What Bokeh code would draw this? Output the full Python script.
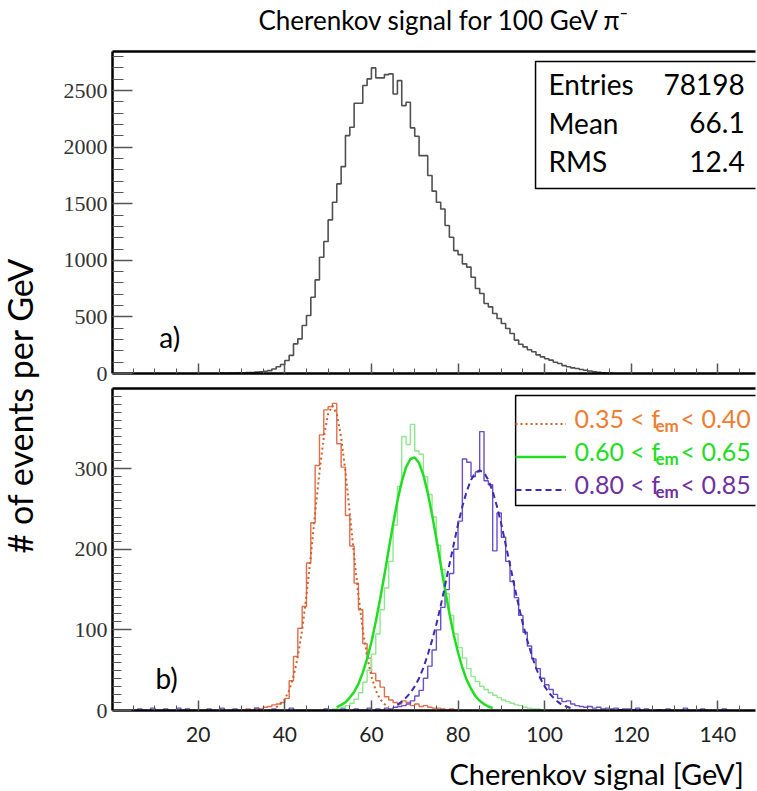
import numpy as np
from math import pi
from bokeh.plotting import figure
from bokeh.layouts import row, column
from bokeh.models import (Range1d, SingleIntervalTicker, FixedTicker, LinearAxis, Label,
                          BoxAnnotation, Legend, LegendItem)
from bokeh.embed import file_html
from bokeh.resources import INLINE

# ---------------- data ----------------
TITLE = "Cherenkov signal for 100 GeV \u03c0\u207b"
X_LABEL = "Cherenkov signal [GeV]"
Y_LABEL = "# of events per GeV"
BIN_WIDTH = 1.0

# panel a) : all events, 1 GeV bins, first bin edge 25 GeV
top_first_bin = 25
top_counts = [3, 2, 4, 3, 6, 5, 9, 8, 12, 16, 20, 25, 40, 60, 80,
              115, 160, 262, 306, 424, 512, 674, 827, 1027, 1166,
              1357, 1513, 1675, 1828, 2102, 2176, 2388, 2388, 2544, 2603,
              2700, 2612, 2612, 2641, 2647, 2470, 2588, 2367, 2397, 2170,
              2096, 1925, 1925, 1750, 1611, 1513, 1454, 1307, 1204, 1086,
              1050, 969, 940, 850, 751, 707, 618, 589, 530, 486,
              442, 398, 353, 295, 259, 235, 210, 192, 165, 147,
              130, 118, 100, 88, 70, 59, 50, 44, 35, 29,
              22, 15, 10, 6, 3, 2, 0]
stats_names = ["Entries", "Mean", "RMS"]
stats_values = ["78198", "66.1", "12.4"]

# panel b) : three f_em slices
orange_first_bin = 30
orange_counts = [0, 2, 0, 3, 2, 4, 5, 7, 8, 10,
                 15, 37, 67, 102, 129, 183, 233, 304, 342, 373,
                 377, 381, 331, 302, 242, 204, 158, 125, 83, 65,
                 46, 37, 29, 17, 13, 10, 8, 12, 10, 6,
                 8, 5, 6, 4, 3, 3, 2, 0, 2, 0, 0]
green_first_bin = 50
green_counts = [0, 2, 3, 4, 6, 9, 14, 22, 35, 50,
                70, 95, 125, 152, 185, 230, 278, 340, 330, 355,
                322, 318, 290, 268, 240, 205, 175, 145, 118, 95,
                78, 65, 52, 42, 36, 30, 26, 22, 19, 16,
                13, 11, 9, 7, 6, 4, 3, 2, 2, 0, 0]
purple_first_bin = 5
purple_counts = [0, 2, 0, 0, 3, 0, 0, 2, 0, 0,            # 5-14
                 3, 0, 2, 0, 0, 0, 0, 2, 0, 0,            # 15-24
                 3, 0, 0, 2, 0, 0, 0, 0, 3, 0,            # 25-34
                 0, 0, 2, 0, 0, 0, 3, 0, 0, 0,            # 35-44
                 0, 0, 0, 0, 2, 0, 0, 0, 2, 0,            # 45-54
                 0, 2, 0, 0, 3,                           # 55-59
                 0, 2, 0, 3, 2, 4, 5, 6, 8, 12,           # 60-69
                 18, 25, 40, 55, 75, 100, 128, 150, 170, 200,
                 235, 312, 308, 290, 296, 346, 285, 280, 198, 245,
                 215, 185, 160, 140, 118, 97, 80, 64, 52, 40,
                 32, 26, 20, 15, 11, 12, 8, 6, 5, 4,
                 5, 3, 4, 2, 3, 2, 3, 1, 2, 2,
                 1, 3, 0, 2, 0, 0, 1, 0, 2, 0,
                 0, 0, 3, 0, 0, 0, 2, 0, 0, 0, 0, 2, 0, 0]

# gaussian fit curves (GeV, events)
orange_fit_x = list(range(38, 65))
orange_fit_y = [4, 8, 14, 25, 42, 67, 100, 143, 192, 245, 296, 339, 368, 378,
                368, 339, 296, 245, 192, 143, 100, 67, 42, 25, 14, 8, 4]
green_fit_x = list(range(52, 89))
green_fit_y = [4, 7, 10, 16, 23, 33, 47, 64, 85, 110, 138, 168, 200, 231, 260,
               284, 302, 312, 314, 307, 292, 270, 243, 213, 181, 150, 121, 94,
               72, 53, 38, 27, 18, 12, 8, 5, 3]
purple_fit_x = list(range(66, 107))
purple_fit_y = [7, 11, 16, 22, 30, 40, 53, 69, 87, 107, 130, 155, 181, 206, 231,
                253, 272, 286, 295, 298, 295, 286, 272, 253, 231, 206, 181, 155,
                130, 107, 87, 69, 53, 40, 30, 22, 16, 11, 7, 5, 3]

legend_parts = [("0.35 < f", "em", "< 0.40"),
                ("0.60 < f", "em", "< 0.65"),
                ("0.80 < f", "em", "< 0.85")]

# ---------------- style ----------------
SANS = "Lato"
SERIF = "Liberation Serif"
C_TOP = "#505050"
C_OR_H, C_OR_F, C_OR_T = "#DE6E4C", "#D0602A", "#ED7D31"
C_GR_H, C_GR_F, C_GR_T = "#8FE88F", "#22DD22", "#22DD22"
C_PU_H, C_PU_F, C_PU_T = "#6A50C8", "#3A2DB0", "#7030A0"


def edges(first, counts):
    return [first + i * BIN_WIDTH for i in range(len(counts))]


def style(p, y_int, y_minor, y_maj, y_min, show_x_labels):
    p.xgrid.visible = False
    p.ygrid.visible = False
    xa = p.below[0]
    ya = p.left[0]
    xa.ticker = SingleIntervalTicker(interval=20, num_minor_ticks=4)
    xa.major_tick_in, xa.major_tick_out = 10, 0
    xa.minor_tick_in, xa.minor_tick_out = 5, 0
    xa.axis_line_width = 2.5
    xa.major_tick_line_width = 1.5
    xa.major_tick_line_color = "#555555"
    xa.minor_tick_line_color = "#555555"
    if show_x_labels:
        xa.major_label_text_font = SANS
        xa.major_label_text_font_size = "21px"
        xa.major_label_text_color = "#222222"
        xa.major_label_standoff = 16
    else:
        xa.major_label_text_color = None
        xa.major_label_text_font_size = "1px"
        xa.major_label_standoff = 0
    ya.ticker = SingleIntervalTicker(interval=y_int, num_minor_ticks=y_minor)
    ya.major_tick_in, ya.major_tick_out = y_maj, 0
    ya.minor_tick_in, ya.minor_tick_out = y_min, 0
    ya.axis_line_width = 2.5
    ya.major_tick_line_width = 1.5
    ya.major_tick_line_color = "#555555"
    ya.minor_tick_line_color = "#555555"
    ya.minor_tick_line_width = 1.2
    ya.major_label_text_font = SERIF
    ya.major_label_text_font_size = "22px"
    ya.major_label_text_color = "#333333"
    ya.major_label_standoff = 5
    top = LinearAxis(ticker=FixedTicker(ticks=[]),
                     major_tick_in=0, major_tick_out=0, minor_tick_in=0, minor_tick_out=0,
                     major_label_text_color=None, major_label_text_font_size="1px",
                     major_label_standoff=0,
                     axis_line_width=2.5, axis_line_color="black")
    p.add_layout(top, "above")


def strip(width, height):
    s = figure(width=width, height=height, x_range=Range1d(0, 1), y_range=Range1d(0, 1),
               x_axis_type=None, y_axis_type=None, min_border=0,
               outline_line_color=None, toolbar_location=None, output_backend="svg")
    return s


# ---------------- y label strip ----------------
p0 = strip(44, 791)
p0.add_layout(Label(x=0.44, y=0.488, text=Y_LABEL, angle=pi / 2,
                    text_align="center", text_baseline="middle",
                    text_font=SANS, text_font_size="34px", text_color="black"))

# ---------------- title strip (its frame is aligned with the panels' frames) ----------------
pt = strip(713, 40)
pt.add_layout(Label(x=0.227, y=0.52, text=TITLE, text_align="left", text_baseline="middle",
                    text_font=SANS, text_font_size="26px", text_color="black"))

# ---------------- panel a ----------------
p1 = figure(width=713, height=346, x_range=Range1d(0.2, 148.7), y_range=Range1d(0, 2845),
            output_backend="svg", toolbar_location=None,
            min_border_left=68, min_border_right=2, min_border_top=11, min_border_bottom=13,
            outline_line_color=None)
style(p1, 500, 5, 20, 11, False)

p1.step(edges(top_first_bin, top_counts), top_counts, mode="after",
        line_color=C_TOP, line_width=1.6)

p1.add_layout(BoxAnnotation(left=97.9, right=200, top=2756, bottom=1634,
                            fill_color="white", fill_alpha=1.0,
                            line_color="black", line_width=1.5, line_alpha=1.0))
for i, (nm, val) in enumerate(zip(stats_names, stats_values)):
    yy = 2557 - i * 340
    p1.add_layout(Label(x=100.9, y=yy, text=nm, text_align="left", text_baseline="middle",
                        text_font=SANS, text_font_size="28px", text_color="black"))
    p1.add_layout(Label(x=146.2, y=yy, text=val, text_align="right", text_baseline="middle",
                        text_font=SANS, text_font_size="28px", text_color="black"))
p1.add_layout(Label(x=13.4, y=326, text="a)", text_align="center", text_baseline="middle",
                    text_font=SANS, text_font_size="28px", text_color="black"))

# ---------------- panel b ----------------
p2 = figure(width=713, height=367, x_range=Range1d(0.2, 148.7), y_range=Range1d(0, 399.5),
            output_backend="svg", toolbar_location=None,
            min_border_left=68, min_border_right=2, min_border_top=2, min_border_bottom=43,
            outline_line_color=None)
style(p2, 100, 10, 19, 9, True)

p2.step(edges(orange_first_bin, orange_counts), orange_counts, mode="after",
        line_color=C_OR_H, line_width=1.4)
p2.step(edges(green_first_bin, green_counts), green_counts, mode="after",
        line_color=C_GR_H, line_width=1.4)
p2.step(edges(purple_first_bin, purple_counts), purple_counts, mode="after",
        line_color=C_PU_H, line_width=1.4)
r_or = p2.line(orange_fit_x, orange_fit_y, line_color=C_OR_F, line_width=2, line_dash="2 3")
r_gr = p2.line(green_fit_x, green_fit_y, line_color=C_GR_F, line_width=2.5)
r_pu = p2.line(purple_fit_x, purple_fit_y, line_color=C_PU_F, line_width=2, line_dash="6 4")

# legend frame + coloured texts (sub-scripted f_em), sample lines from a Bokeh Legend
p2.add_layout(BoxAnnotation(left=93.3, right=200, top=390.8, bottom=254.3,
                            fill_color="white", fill_alpha=1.0,
                            line_color="black", line_width=1.5, line_alpha=1.0))
text_colors = [C_OR_T, C_GR_T, C_PU_T]
for i, (a, sub, b) in enumerate(legend_parts):
    yy = 363.5 - i * 41.0
    p2.add_layout(Label(x=106.9, y=yy, text=a, text_align="left", text_baseline="middle",
                        text_font=SANS, text_font_size="25px", text_color=text_colors[i]))
    p2.add_layout(Label(x=106.9, y=yy, x_offset=81, y_offset=-8, text=sub, text_align="left",
                        text_baseline="middle", text_font=SANS, text_font_size="17px",
                        text_font_style="bold", text_color=text_colors[i]))
    p2.add_layout(Label(x=106.9, y=yy, x_offset=106, text=b, text_align="left",
                        text_baseline="middle", text_font=SANS, text_font_size="25px",
                        text_color=text_colors[i]))

legend = Legend(items=[LegendItem(label=" ", renderers=[r]) for r in (r_or, r_gr, r_pu)],
                location=(403, 204), orientation="vertical",
                border_line_color=None, background_fill_alpha=0.0,
                padding=6, spacing=0, margin=0, glyph_width=51, glyph_height=33,
                label_height=33, label_width=20, label_standoff=0,
                label_text_font_size="10px")
p2.add_layout(legend)

p2.add_layout(Label(x=12.7, y=40, text="b)", text_align="center", text_baseline="middle",
                    text_font=SANS, text_font_size="28px", text_color="black"))

# ---------------- x label strip ----------------
p3 = strip(713, 38)
p3.add_layout(Label(x=0.983, y=0.47, text=X_LABEL, text_align="right", text_baseline="middle",
                    text_font=SANS, text_font_size="29px", text_color="black"))

layout = row(p0, column(pt, p1, p2, p3, spacing=0), spacing=0)
open("out.html", "w").write(file_html(layout, INLINE))
